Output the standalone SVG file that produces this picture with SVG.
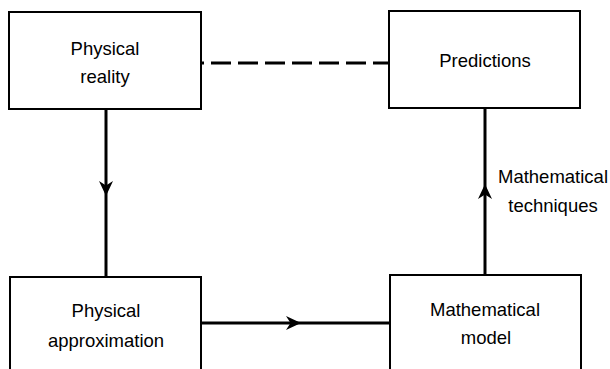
<svg xmlns="http://www.w3.org/2000/svg" width="610" height="369" viewBox="0 0 610 369">
  <style>
    .box { fill: #fff; stroke: #000; stroke-width: 2; }
    .lbl { font-family: "Liberation Sans", Arial, sans-serif; font-size: 18.5px; fill: #000; text-anchor: middle; }
    .link { fill: none; stroke: #000; stroke-width: 3; }
    .dash { fill: none; stroke: #000; stroke-width: 3; stroke-dasharray: 20 7; stroke-dashoffset: 17; }
  </style>
  <defs>
    <marker id="head" markerUnits="userSpaceOnUse" markerWidth="20" markerHeight="16" refX="15" refY="8" orient="auto" viewBox="0 0 20 16">
      <path d="M15,8 L0,1 L4.5,8 L0,15 Z" fill="#000"/>
    </marker>
  </defs>
  <rect width="610" height="369" fill="#fff"/>

  <g id="connectors">
    <path class="dash" d="M201,63 H389"/>
    <path class="link" d="M106,109 V196 V277" marker-mid="url(#head)"/>
    <path class="link" d="M201,323 H301 H390" marker-mid="url(#head)"/>
    <path class="link" d="M485,275 V184 V108" marker-mid="url(#head)"/>
  </g>

  <g id="physical-reality">
    <rect class="box" x="9" y="12" width="192" height="97"/>
    <text class="lbl" x="105" y="55">Physical</text>
    <text class="lbl" x="105" y="83">reality</text>
  </g>

  <g id="predictions">
    <rect class="box" x="389" y="11" width="191" height="97"/>
    <text class="lbl" x="485" y="67">Predictions</text>
  </g>

  <g id="physical-approximation">
    <rect class="box" x="10" y="277" width="191" height="100"/>
    <text class="lbl" x="106" y="317">Physical</text>
    <text class="lbl" x="106" y="347">approximation</text>
  </g>

  <g id="mathematical-model">
    <rect class="box" x="390" y="275" width="191" height="102"/>
    <text class="lbl" x="485" y="316">Mathematical</text>
    <text class="lbl" x="486" y="344">model</text>
  </g>

  <g id="techniques-label">
    <text class="lbl" x="553" y="183">Mathematical</text>
    <text class="lbl" x="553" y="212">techniques</text>
  </g>
</svg>
